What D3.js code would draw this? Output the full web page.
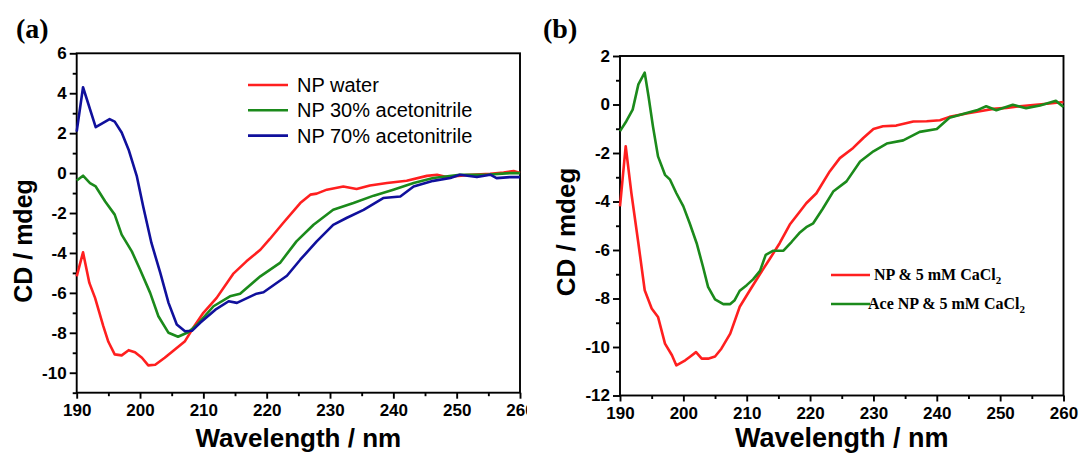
<!DOCTYPE html>
<html>
<head>
<meta charset="utf-8">
<script src="https://cdn.jsdelivr.net/npm/d3@7"></script>
<style>
  body { margin: 0; background: #fff; }
  text { fill: #000; }
</style>
</head>
<body>
<div id="chart"></div>
<script>
// ---- data: [wavelength nm, CD mdeg] ----
var npWater = [[190,-5.17],[191,-3.97],[192,-5.5],[192.9,-6.25],[194.2,-7.67],[195,-8.45],[196,-9.08],[197.1,-9.13],[198.2,-8.87],[199.2,-8.97],[200.3,-9.25],[201.3,-9.63],[202.4,-9.6],[203.9,-9.25],[205.5,-8.83],[207.1,-8.42],[208.4,-7.75],[210,-7.0],[212.1,-6.25],[214.7,-5.05],[216.8,-4.42],[219,-3.84],[220.5,-3.3],[222.6,-2.5],[225.3,-1.5],[226.9,-1.08],[227.9,-1.03],[229.5,-0.83],[232.1,-0.67],[234.2,-0.8],[236.3,-0.62],[239,-0.5],[242.1,-0.38],[245.3,-0.14],[246.9,-0.08],[248.4,-0.2],[251.6,-0.1],[255.3,-0.03],[257.4,0.03],[259,0.1],[260,0.0]];
var np30 = [[190,-0.37],[191,-0.13],[192.1,-0.5],[193,-0.67],[194.5,-1.42],[196,-2.08],[197.1,-3.08],[198.7,-3.92],[200,-4.83],[201.6,-6.0],[202.9,-7.17],[204.5,-8.0],[206,-8.2],[207.6,-7.97],[209,-7.6],[211.6,-6.67],[214.2,-6.17],[215.8,-6.04],[219,-5.17],[222.1,-4.5],[224.7,-3.42],[227.4,-2.59],[230.5,-1.84],[233.7,-1.5],[236.9,-1.13],[240,-0.83],[243.2,-0.5],[246.3,-0.25],[250.5,-0.08],[254.7,-0.08],[258.4,0.0],[260,0.0]];
var np70 = [[190,2.08],[191,4.3],[193,2.3],[195.2,2.7],[196,2.58],[197.1,2.03],[198.2,1.17],[199.5,-0.17],[200.5,-1.67],[201.8,-3.5],[203.2,-5.0],[204.5,-6.5],[205.8,-7.58],[207.1,-7.92],[208.2,-7.9],[209.5,-7.5],[211.9,-6.84],[214,-6.42],[215.3,-6.5],[218.4,-6.04],[219.5,-5.97],[223.2,-5.14],[225.3,-4.34],[227.9,-3.42],[230.5,-2.59],[232.6,-2.25],[235.3,-1.84],[238.4,-1.25],[241.1,-1.17],[243.2,-0.67],[246.3,-0.39],[249,-0.25],[250.5,-0.08],[253.2,-0.2],[255.3,-0.08],[256.3,-0.25],[258.4,-0.2],[260,-0.2]];

var npCa = [[190,-4.2],[190.9,-1.72],[191.8,-3.66],[192.9,-5.72],[193.9,-7.66],[195,-8.41],[196,-8.76],[197.1,-9.86],[198.2,-10.34],[198.9,-10.76],[200.3,-10.55],[201,-10.41],[202,-10.21],[202.9,-10.48],[203.9,-10.48],[205,-10.39],[206,-10.07],[207.4,-9.45],[208.9,-8.34],[210.5,-7.66],[212.1,-6.99],[213.7,-6.34],[215.2,-5.72],[216.8,-4.95],[218.4,-4.41],[219.4,-4.07],[221,-3.66],[223.1,-2.76],[224.7,-2.21],[226.8,-1.79],[228.4,-1.38],[230,-1.01],[231.5,-0.9],[233.6,-0.87],[236.3,-0.7],[238.4,-0.69],[240.5,-0.65],[242,-0.51],[244.7,-0.37],[246.8,-0.28],[248.9,-0.18],[251,-0.14],[253.1,-0.07],[255.2,-0.02],[257.8,0.04],[260,0.1]];
var aceNpCa = [[190,-1.1],[191,-0.69],[192,-0.21],[192.9,0.83],[193.9,1.31],[194.5,0.34],[195.2,-0.9],[196,-2.14],[197.1,-2.9],[197.9,-3.1],[198.9,-3.66],[200,-4.2],[201,-4.9],[202.1,-5.72],[203.1,-6.69],[203.9,-7.52],[205,-8.04],[206.3,-8.23],[207.4,-8.23],[208.1,-8.07],[208.9,-7.68],[210,-7.45],[211,-7.21],[212.1,-6.86],[213,-6.2],[214.2,-6.03],[215.8,-6.03],[217.1,-5.66],[218.3,-5.3],[219.4,-5.06],[220.5,-4.9],[222,-4.3],[223.65,-3.59],[225.75,-3.17],[227.9,-2.35],[230,-1.93],[232.1,-1.61],[234.7,-1.48],[237.3,-1.13],[240,-1.01],[242,-0.55],[244.7,-0.35],[246.3,-0.24],[247.8,-0.07],[249.4,-0.24],[252,-0.01],[254.1,-0.15],[256.3,-0.04],[258.8,0.15],[260,-0.1]];

// tick values
var xTicks = [190, 200, 210, 220, 230, 240, 250, 260];
var xMinor = [195, 205, 215, 225, 235, 245, 255];
var yTicksA = [-10, -8, -6, -4, -2, 0, 2, 4, 6];
var yMinorA = [-11, -9, -7, -5, -3, -1, 1, 3, 5];
var yTicksB = [-12, -10, -8, -6, -4, -2, 0, 2];
var yMinorB = [-11, -9, -7, -5, -3, -1, 1];

var RED = "#ff1f1f", GREEN = "#1b8a1b", BLUE = "#10109c";
var SANS = "'Liberation Sans', Arial, sans-serif";
var SERIF = "'Liberation Serif', 'Times New Roman', serif";

var svg = d3.select("#chart")
    .append("svg")
    .attr("width", 1083)
    .attr("height", 459);

// panel (a) is cut off at its right edge like in the source figure
svg.append("clipPath").attr("id", "clipA")
    .append("rect").attr("x", 0).attr("y", 0).attr("width", 527).attr("height", 459);

function drawPanel(cfg) {
    var g = svg.append("g");
    if (cfg.clip) g.attr("clip-path", "url(#" + cfg.clip + ")");

    var x = d3.scaleLinear().domain([190, 260]).range([cfg.left, cfg.right]);
    var y = d3.scaleLinear().domain(cfg.yDomain).range([cfg.bottom, cfg.top]);

    // frame (top and right without ticks)
    g.append("rect")
        .attr("x", cfg.left).attr("y", cfg.top)
        .attr("width", cfg.right - cfg.left).attr("height", cfg.bottom - cfg.top)
        .style("fill", "none").style("stroke", "#000").style("stroke-width", 1.9);

    // x axis major + minor
    g.append("g").attr("transform", "translate(0," + cfg.bottom + ")")
        .call(d3.axisBottom(x).tickValues(xTicks).tickSize(6).tickPadding(5).tickFormat(function(d) { return String(d); }));
    g.append("g").attr("transform", "translate(0," + cfg.bottom + ")")
        .call(d3.axisBottom(x).tickValues(xMinor).tickSize(3.5).tickFormat(""));

    // y axis major + minor
    g.append("g").attr("transform", "translate(" + cfg.left + ",0)")
        .call(d3.axisLeft(y).tickValues(cfg.yTicks).tickSize(7).tickPadding(3).tickFormat(function(d) { return String(d); }));
    g.append("g").attr("transform", "translate(" + cfg.left + ",0)")
        .call(d3.axisLeft(y).tickValues(cfg.yMinor).tickSize(4).tickFormat(""));

    g.selectAll(".domain").remove();
    g.selectAll(".tick line").style("stroke", "#000").style("stroke-width", 1.9);
    g.selectAll(".tick text")
        .style("font-family", SANS).style("font-weight", "bold").style("font-size", "17px").style("fill", "#000");

    // axis titles
    g.append("text")
        .attr("x", (cfg.left + cfg.right) / 2).attr("y", 447)
        .attr("text-anchor", "middle")
        .style("font-family", SANS).style("font-weight", "bold").style("font-size", cfg.xlabSize + "px")
        .text("Wavelength / nm");
    g.append("text")
        .attr("transform", "translate(" + cfg.ylabX + "," + cfg.ylabY + ") rotate(-90)")
        .attr("text-anchor", "middle")
        .style("font-family", SANS).style("font-weight", "bold").style("font-size", cfg.ylabSize + "px")
        .text("CD / mdeg");

    // panel letter
    g.append("text")
        .attr("x", cfg.letterX).attr("y", 38)
        .style("font-family", SERIF).style("font-weight", "bold").style("font-size", "28px")
        .text(cfg.letter);

    // spectra
    var line = d3.line()
        .x(function(d) { return x(d[0]); })
        .y(function(d) { return y(d[1]); });
    cfg.series.forEach(function(s) {
        g.append("path")
            .datum(s.data)
            .attr("d", line)
            .style("fill", "none")
            .style("stroke", s.color)
            .style("stroke-width", 2.6)
            .style("stroke-linejoin", "round");
    });
    return g;
}

// ---- panel (a) ----
var gA = drawPanel({
    left: 76.7, right: 520, top: 53.3, bottom: 392.7,
    yDomain: [-11, 6], yTicks: yTicksA, yMinor: yMinorA,
    xlabSize: 26, ylabSize: 25, ylabX: 32, ylabY: 241,
    letter: "(a)", letterX: 16, clip: "clipA",
    series: [
        { data: npWater, color: RED },
        { data: np30, color: GREEN },
        { data: np70, color: BLUE }
    ]
});

// legend (a)
var legA = [
    { name: "NP water", color: RED },
    { name: "NP 30% acetonitrile", color: GREEN },
    { name: "NP 70% acetonitrile", color: BLUE }
];
legA.forEach(function(d, i) {
    var yy = 85 + i * 25.3;
    gA.append("line")
        .attr("x1", 248).attr("x2", 288).attr("y1", yy).attr("y2", yy)
        .style("stroke", d.color).style("stroke-width", 2.6);
    gA.append("text")
        .attr("x", 297).attr("y", yy + 7)
        .style("font-family", SANS).style("font-size", "20px")
        .text(d.name);
});

// ---- panel (b) ----
var gB = drawPanel({
    left: 620, right: 1063.5, top: 56, bottom: 395.5,
    yDomain: [-12, 2], yTicks: yTicksB, yMinor: yMinorB,
    xlabSize: 27, ylabSize: 26, ylabX: 575, ylabY: 232,
    letter: "(b)", letterX: 543,
    series: [
        { data: npCa, color: RED },
        { data: aceNpCa, color: GREEN }
    ]
});

// legend (b)
var legB = [
    { name: "NP & 5 mM CaCl", color: RED, tx: 874, y: 275 },
    { name: "Ace NP & 5 mM CaCl", color: GREEN, tx: 868, y: 304 }
];
legB.forEach(function(d) {
    gB.append("line")
        .attr("x1", 831).attr("x2", 870).attr("y1", d.y).attr("y2", d.y)
        .style("stroke", d.color).style("stroke-width", 2.6);
    var t = gB.append("text")
        .attr("x", d.tx).attr("y", d.y + 5)
        .style("font-family", SERIF).style("font-weight", "bold").style("font-size", "16px")
        .text(d.name);
    t.append("tspan")
        .attr("dy", 4).style("font-size", "11px")
        .text("2");
});
</script>
</body>
</html>
